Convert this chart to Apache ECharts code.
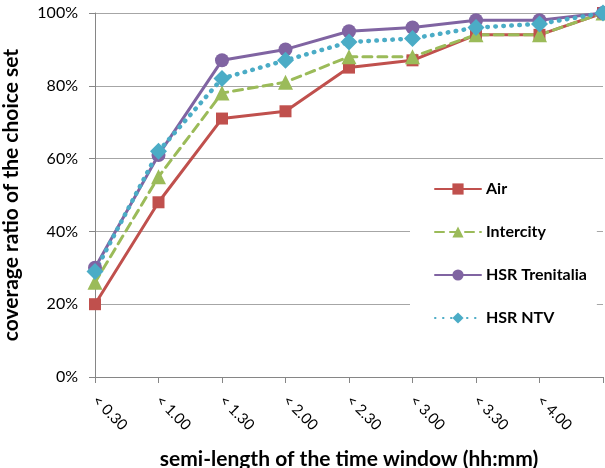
<!DOCTYPE html>
<html lang="en">
<head>
	<meta charset="UTF-8">
	<title>coverage ratio</title>
</head>
<style>
	html, body{ margin:0; padding:0; background:#fff; }
	#main{
		width: 605px;
		height: 468px;
	}
</style>
<body>
	<div id="main"></div>
	<script src="https://cdn.jsdelivr.net/npm/echarts@6/dist/echarts.min.js"></script>
	<script>
		// time window labels (last one has no label in the original)
		var windows = ['< 0.30', '< 1.00', '< 1.30', '< 2.00', '< 2.30', '< 3.00', '< 3.30', '< 4.00', ''];
		var air = [20, 48, 71, 73, 85, 87, 94, 94, 100];
		var intercity = [26, 55, 78, 81, 88, 88, 94, 94, 100];
		var trenitalia = [30, 61, 87, 90, 95, 96, 98, 98, 100];
		var ntv = [29, 62, 82, 87, 92, 93, 96, 97, 100];

		var font = 'Lato, "Open Sans", sans-serif';
		var myChart = echarts.init(document.getElementById('main'));

		function line(name, data, color, symbol, size, width, type) {
			return {
				name: name,
				type: 'line',
				data: data,
				symbol: symbol,
				symbolSize: size,
				itemStyle: { color: color },
				lineStyle: { color: color, width: width, type: type, cap: 'round' },
				emphasis: { disabled: true },
				animation: false
			};
		}

		var option = {
			textStyle: { fontFamily: font },
			grid: { left: 95, right: 2, top: 13, bottom: 91, containLabel: false, outerBoundsMode: 'none' },
			legend: {
				orient: 'vertical',
				left: 410,
				top: 169,
				itemWidth: 46,
				itemHeight: 14,
				itemGap: 27,
				padding: [12, 10, 14, 24],
				backgroundColor: '#fff',
				textStyle: { fontFamily: font, fontSize: 16, fontWeight: 'bold', color: '#000' },
				data: ['Air', 'Intercity', 'HSR Trenitalia', 'HSR NTV']
			},
			xAxis: {
				type: 'category',
				data: windows,
				boundaryGap: false,
				name: 'semi-length of the time window (hh:mm)',
				nameLocation: 'middle',
				nameGap: 72,
				nameTextStyle: { fontFamily: font, fontSize: 21, fontWeight: 'bold', color: '#000' },
				axisLine: { lineStyle: { color: '#868686', width: 1 } },
				axisTick: { length: 6, alignWithLabel: true, lineStyle: { color: '#868686' } },
				axisLabel: { rotate: -45, margin: 21, fontFamily: font, fontSize: 15, color: '#000', interval: 0 },
				splitLine: { show: false }
			},
			yAxis: {
				type: 'value',
				min: 0,
				max: 100,
				interval: 20,
				name: 'coverage ratio of the choice set',
				nameLocation: 'middle',
				nameGap: 73,
				nameTextStyle: { fontFamily: font, fontSize: 21, fontWeight: 'bold', color: '#000' },
				axisLine: { show: true, lineStyle: { color: '#868686', width: 1 } },
				axisTick: { show: true, length: 6, lineStyle: { color: '#868686' } },
				axisLabel: { formatter: '{value}%', margin: 17, fontFamily: font, fontSize: 16, color: '#000' },
				splitLine: { lineStyle: { color: '#a6a6a6', width: 1 } }
			},
			series: [
				line('Air', air, '#C0504D', 'rect', 12, 3, 'solid'),
				line('Intercity', intercity, '#9BBB59', 'triangle', 15, 3, [9, 6]),
				line('HSR Trenitalia', trenitalia, '#8064A2', 'circle', 14, 3, 'solid'),
				line('HSR NTV', ntv, '#4BACC6', 'diamond', 17, 4.5, [0.5, 7.5])
			]
		};
		myChart.setOption(option);
	</script>
</body>
</html>
